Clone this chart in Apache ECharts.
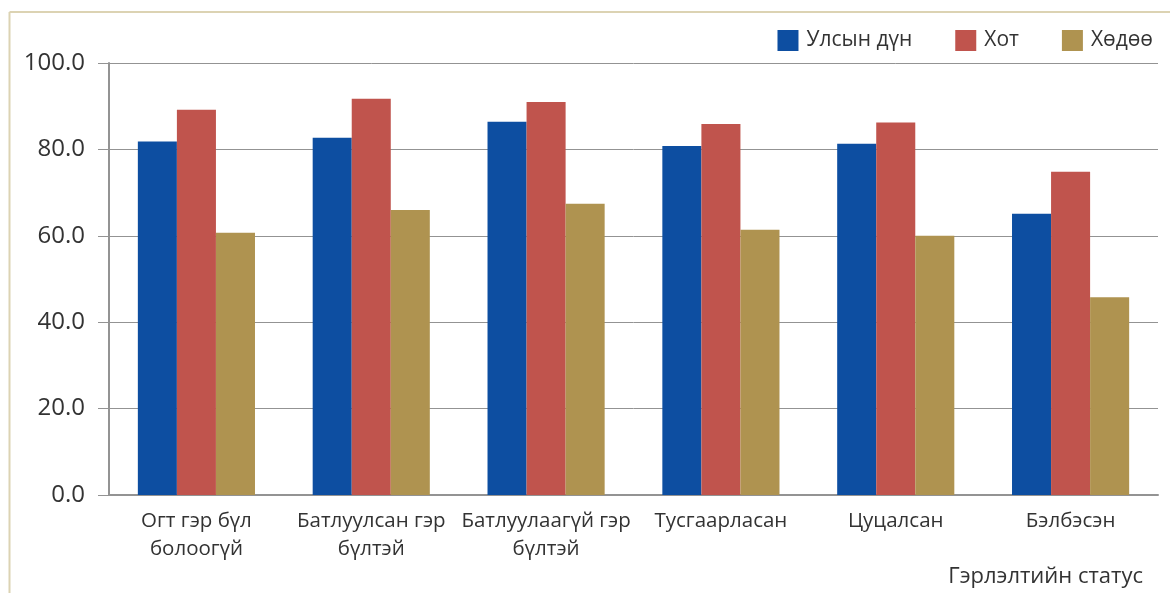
<!DOCTYPE html>
<html>
<head>
<meta charset="utf-8">
<script src="https://cdn.jsdelivr.net/npm/echarts@6/dist/echarts.min.js"></script>
<style>
html,body{margin:0;padding:0;background:#fff;}
#main{width:1170px;height:593px;}
</style>
</head>
<body>
<div id="main"></div>
<script>
const categories = ['Огт гэр бүл\nболоогүй', 'Батлуулсан гэр\nбүлтэй', 'Батлуулаагүй гэр\nбүлтэй', 'Тусгаарласан', 'Цуцалсан', 'Бэлбэсэн'];
const seriesNames = ['Улсын дүн', 'Хот', 'Хөдөө'];
const national = [81.8, 82.7, 86.4, 80.8, 81.3, 65.1];
const urban = [89.2, 91.7, 91.0, 85.9, 86.2, 74.8];
const rural = [60.7, 66.0, 67.4, 61.4, 60.0, 45.8];
const colors = ['#0D4EA1', '#C0544D', '#AF9350'];
const axisTitle = 'Гэрлэлтийн статус';

const font = '"Open Sans", "Noto Sans", sans-serif';
const chart = echarts.init(document.getElementById('main'));
const values = [national, urban, rural];
chart.setOption({
  animation: false,
  textStyle: { fontFamily: font },
  color: colors,
  grid: { left: 109, right: 12, top: 63, bottom: 98, containLabel: false },
  legend: {
    data: seriesNames,
    right: 12, top: 25,
    itemWidth: 21, itemHeight: 21, itemGap: 43,
    icon: 'rect',
    textStyle: { fontSize: 21, color: '#333', fontFamily: font, padding: [0,0,0,3] }
  },
  xAxis: {
    type: 'category',
    data: categories,
    axisLine: { lineStyle: { color: '#939393', width: 2 } },
    axisTick: { show: false },
    axisLabel: { fontSize: 20.5, color: '#333', lineHeight: 28, margin: 12, interval: 0, fontFamily: font }
  },
  yAxis: {
    type: 'value', min: 0, max: 100, interval: 20,
    axisLine: { show: true, lineStyle: { color: '#939393', width: 2 } },
    axisTick: { show: true, length: 11, lineStyle: { color: '#939393', width: 1 } },
    splitLine: { lineStyle: { color: '#939393', width: 1 } },
    axisLabel: { fontSize: 24, color: '#333', margin: 24, formatter: v => v.toFixed(1), fontFamily: font }
  },
  series: seriesNames.map((n, i) => ({
    name: n, type: 'bar', data: values[i],
    barGap: '0%', barCategoryGap: '33%'
  })),
  graphic: [
    { type: 'line', shape: { x1: 9.5, y1: 12, x2: 1170, y2: 12 }, style: { stroke: '#DCD3B3', lineWidth: 2 } },
    { type: 'line', shape: { x1: 9.5, y1: 12, x2: 9.5, y2: 593 }, style: { stroke: '#DCD3B3', lineWidth: 2 } },
    { type: 'text', right: 27, top: 566, style: { text: axisTitle, fontSize: 22, fill: '#333', fontFamily: font } }
  ]
});
</script>
</body>
</html>
